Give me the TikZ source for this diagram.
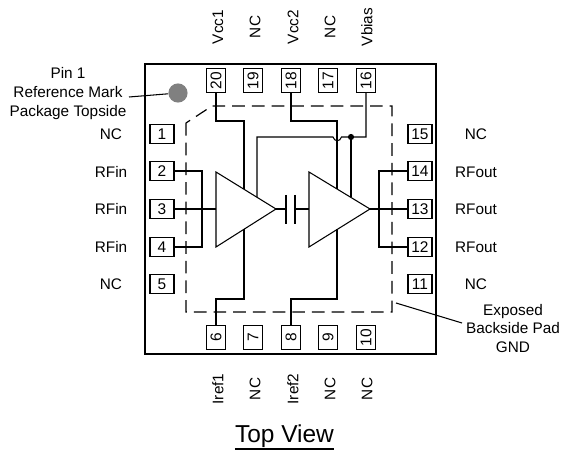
\documentclass[tikz,border=0pt]{standalone}
\usepackage{graphicx}
\usepackage{fontspec}
\setmainfont{Liberation Sans}
\tikzset{
pinh/.style={draw,line width=0.8pt,minimum width=17pt,minimum height=13.4pt,inner sep=0pt,font=\fontsize{11}{12}\selectfont},
pinv/.style={draw,line width=0.8pt,minimum width=13.4pt,minimum height=17pt,inner sep=0pt,font=\fontsize{11}{12}\selectfont},
lbl/.style={inner sep=0pt,font=\fontsize{10.9}{13.2}\selectfont,align=center},
lblv/.style={lbl,rotate=90},
wire/.style={line width=0.75pt},
}
\begin{document}
\begin{tikzpicture}[x=0.025cm,y=-0.025cm]
\useasboundingbox (0,0) rectangle (561,451);
\draw[line width=1pt] (145,64) rectangle (436,354);
\draw[line width=0.85pt,dash pattern=on 9pt off 5pt] (186,123) -- (186,312) -- (392,312) -- (392,106) -- (212,106) -- cycle;
\node[pinv] (p20) at (216,80.5) {\rotatebox{90}{20}};
\node[pinv] (p19) at (253,80.5) {\rotatebox{90}{19}};
\node[pinv] (p18) at (291,80.5) {\rotatebox{90}{18}};
\node[pinv] (p17) at (328,80.5) {\rotatebox{90}{17}};
\node[pinv] (p16) at (366,80.5) {\rotatebox{90}{16}};
\node[pinv] (p6) at (216,337.5) {\rotatebox{90}{6}};
\node[pinv] (p7) at (253,337.5) {\rotatebox{90}{7}};
\node[pinv] (p8) at (291,337.5) {\rotatebox{90}{8}};
\node[pinv] (p9) at (328,337.5) {\rotatebox{90}{9}};
\node[pinv] (p10) at (366,337.5) {\rotatebox{90}{10}};
\node[pinh] (p1) at (162,134) {1};
\node[pinh] (p2) at (162,171) {2};
\node[pinh] (p3) at (162,209) {3};
\node[pinh] (p4) at (162,247) {4};
\node[pinh] (p5) at (162,284) {5};
\node[pinh] (p15) at (420,134) {15};
\node[pinh] (p14) at (420,171) {14};
\node[pinh] (p13) at (420,209) {13};
\node[pinh] (p12) at (420,247) {12};
\node[pinh] (p11) at (420,284) {11};
\coordinate (ampain) at (216,209);
\coordinate (ampatip) at (276,209);
\coordinate (ampbin) at (309,209);
\coordinate (ampbtip) at (370,209);
\coordinate (capa) at (286,209);
\coordinate (capb) at (295,209);
\coordinate (injoin) at (202,209);
\coordinate (outjoin) at (379,209);
\coordinate (biasdot) at (351,137);
\draw[wire] (216,172) -- (ampatip) -- (216,247) -- cycle;
\draw[wire] (309,172) -- (ampbtip) -- (309,247) -- cycle;
\draw[wire] (ampatip) -- (capa);
\draw[wire] (capb) -- (ampbin);
\draw[line width=1pt] (286,195) -- (286,224);
\draw[line width=1pt] (295,195) -- (295,224);
\draw[wire] (p3.east) -- (ampain);
\draw[wire] (p2.east) -| (injoin);
\draw[wire] (p4.east) -| (injoin);
\draw[wire] (ampbtip) -- (p13.west);
\draw[wire] (p14.west) -| (outjoin);
\draw[wire] (p12.west) -| (outjoin);
\coordinate (vccaa) at (244,121);
\coordinate (vccab) at (244,189.5);
\coordinate (vccba) at (337,121);
\coordinate (vccbb) at (337,189.5);
\coordinate (irefaa) at (244,299);
\coordinate (irefab) at (244,229.5);
\coordinate (irefba) at (337,299);
\coordinate (irefbb) at (337,229.5);
\coordinate (biasa) at (257,137);
\coordinate (biasb) at (257,197.5);
\coordinate (biasc) at (351,197.5);
\draw[wire] (p20.south) |- (vccaa) -- (vccab);
\draw[wire] (p18.south) |- (vccba) -- (vccbb);
\draw[wire] (p6.north) |- (irefaa) -- (irefab);
\draw[wire] (p8.north) |- (irefba) -- (irefbb);
\draw[wire] (p16.south) |- (biasdot) -- (341.5,137) .. controls (340,142) and (334.5,142) .. (333,137) -- (biasa) -- (biasb);
\draw[wire] (biasdot) -- (biasc);
\fill (biasdot) circle[radius=2.2pt];
\node[circle,fill=black!50,minimum size=13.6pt,inner sep=0pt] (markdot) at (178,93) {};
\coordinate (marktail) at (129,97);
\draw[wire] (marktail) -- (markdot);
\coordinate (padtip) at (396,303);
\coordinate (padtail) at (462,323);
\draw[wire] (padtip) -- (padtail);
\node[lbl] (marktext) at (68,93.5) {Pin 1\\Reference Mark\\Package Topside};
\node[lbl] (padtext) at (513,328.5) {Exposed\\Backside Pad\\GND};
\node[lbl] (l1) at (111,134) {NC};
\node[lbl] (l2) at (111,172) {RFin};
\node[lbl] (l3) at (111,209) {RFin};
\node[lbl] (l4) at (111,247) {RFin};
\node[lbl] (l5) at (111,284) {NC};
\node[lbl] (l15) at (476,134) {NC};
\node[lbl] (l14) at (476,172) {RFout};
\node[lbl] (l13) at (476,209) {RFout};
\node[lbl] (l12) at (476,247) {RFout};
\node[lbl] (l11) at (476,284) {NC};
\node[lblv] (l20) at (218,27) {Vcc1};
\node[lblv] (l19) at (255,27) {NC};
\node[lblv] (l18) at (293,27) {Vcc2};
\node[lblv] (l17) at (330,27) {NC};
\node[lblv] (l16) at (367,27) {Vbias};
\node[lblv] (l6) at (218,389) {Iref1};
\node[lblv] (l7) at (255,389) {NC};
\node[lblv] (l8) at (293,389) {Iref2};
\node[lblv] (l9) at (330,389) {NC};
\node[lblv] (l10) at (367,389) {NC};
\node[inner sep=0pt,anchor=base,font=\fontsize{17.4}{20}\selectfont] (title) at (284.5,443) {Top View};
\draw[line width=1.2pt] ([yshift=-0.6pt]title.south west) -- ([yshift=-0.6pt]title.south east);
\end{tikzpicture}
\end{document}
